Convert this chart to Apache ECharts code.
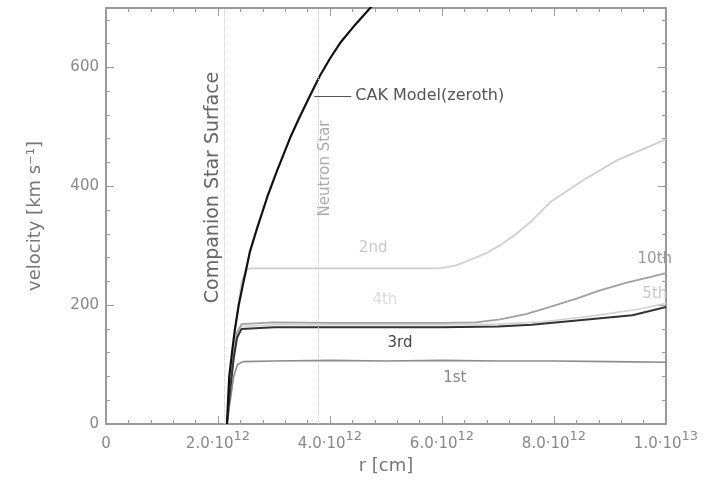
<!DOCTYPE html>
<html>
<head>
<meta charset="utf-8">
<script src="https://cdn.jsdelivr.net/npm/echarts@6/dist/echarts.min.js"></script>
<style>html,body{margin:0;padding:0;background:#fff}#c{width:712px;height:481px}</style>
</head>
<body>
<div id="c"></div>
<script>
// r in cm, v in km/s
const cakZeroth = [[2.16e12,0],[2.18e12,40],[2.20e12,79],[2.25e12,120],[2.30e12,158],[2.37e12,200],[2.45e12,237],[2.57e12,290],[2.70e12,330],[2.88e12,382],[3.05e12,425],[3.29e12,482],[3.45e12,515],[3.64e12,552],[3.82e12,586],[4.00e12,615],[4.18e12,641],[4.45e12,672],[4.71e12,699],[4.85e12,714]];
const iter1st = [[2.16e12,0],[2.22e12,40],[2.28e12,80],[2.35e12,100],[2.45e12,105],[3e12,106],[4e12,107],[5e12,106],[6e12,107],[7e12,106],[8e12,106],[9e12,105],[1e13,104]];
const iter2nd = [[2.16e12,0],[2.24e12,90],[2.32e12,170],[2.42e12,240],[2.52e12,260],[2.6e12,262],[4e12,262],[5.96e12,262],[6.25e12,267],[6.50e12,276],[6.78e12,287],[7.04e12,301],[7.3e12,318],[7.57e12,339],[7.93e12,373],[8.52e12,410],[9.13e12,444],[1e13,479]];
const iter3rd = [[2.16e12,0],[2.22e12,60],[2.28e12,110],[2.34e12,145],[2.42e12,160],[3e12,163],[4e12,163],[5e12,163],[6e12,163],[7e12,164],[7.6e12,167],[8.5e12,175],[9.4e12,183],[1e13,197]];
const iter4th = [[2.16e12,0],[2.22e12,62],[2.28e12,112],[2.34e12,150],[2.42e12,164],[3e12,167],[4e12,167],[5e12,167],[6e12,167],[7e12,168],[7.8e12,172],[8.7e12,182],[9.5e12,193],[1e13,203]];
const iter10th = [[2.16e12,0],[2.22e12,64],[2.28e12,115],[2.34e12,154],[2.42e12,168],[3e12,171],[4e12,170],[5e12,170],[6e12,170],[6.6e12,171],[7.04e12,176],[7.5e12,185],[7.93e12,197],[8.4e12,211],[8.82e12,225],[9.3e12,238],[9.71e12,247],[1e13,254]];
const xTicks = [0, 2e12, 4e12, 6e12, 8e12, 1e13];
const yTicks = [0, 200, 400, 600];
const companionSurface = 2.11e12;
const neutronStar = 3.79e12;
const curveLabels = [
  {text:'2nd', r:4.77e12, v:296, color:'#c8c8c8'},
  {text:'4th', r:4.98e12, v:208, color:'#dcdcdc'},
  {text:'3rd', r:5.25e12, v:136, color:'#444'},
  {text:'1st', r:6.23e12, v:77, color:'#888'},
  {text:'10th', r:9.80e12, v:277, color:'#999'},
  {text:'5th', r:9.80e12, v:218, color:'#c8c8c8'}
];

const chart = echarts.init(document.getElementById('c'));
const axisColor = '#9a9a9a';
const font = 'DejaVu Sans';
function xFmt(v){
  if (v === 0) return '{a|0}';
  const e = Math.floor(Math.log10(v) + 1e-9);
  const m = (v / Math.pow(10, e)).toFixed(1);
  return '{a|' + m + '·10}{b|' + e + '}';
}
function yFmt(v){ return yTicks.indexOf(v) >= 0 ? String(v) : ''; }
const baseX = {
  type:'value', min:0, max:1e13, interval:2e12,
  axisLine:{show:true, onZero:false, lineStyle:{color:axisColor, width:2}},
  axisTick:{show:true, inside:true, length:8, lineStyle:{color:axisColor}},
  minorTick:{show:true, splitNumber:5, length:4, lineStyle:{color:axisColor}},
  splitLine:{show:false}
};
const baseY = {
  type:'value', min:0, max:700, interval:200,
  axisLine:{show:true, onZero:false, lineStyle:{color:axisColor, width:2}},
  axisTick:{show:true, inside:true, length:8, lineStyle:{color:axisColor}},
  minorTick:{show:true, splitNumber:5, length:4, lineStyle:{color:axisColor}},
  splitLine:{show:false}
};
function lineSeries(name, data, color, width){
  return {name, type:'line', data, showSymbol:false, symbol:'none', smooth:false,
    lineStyle:{color, width}, xAxisIndex:0, yAxisIndex:0, silent:true, z:3};
}
const labelSeries = {
  type:'scatter', data:[], xAxisIndex:0, yAxisIndex:0, silent:true,
  markPoint:{symbol:'circle', symbolSize:0, silent:true,
    data: curveLabels.map(l => ({coord:[l.r, l.v], label:{show:true, formatter:l.text, color:l.color, fontSize:15, fontFamily:font, position:'inside'}}))}
};
const guideSeries = {
  type:'line', data:[], xAxisIndex:0, yAxisIndex:0, silent:true,
  markLine:{symbol:'none', silent:true, label:{show:false},
    lineStyle:{color:'#d4d4d4', type:'dotted', width:1},
    data:[{xAxis:companionSurface},{xAxis:neutronStar}]}
};
const cak = lineSeries('CAK', cakZeroth, '#111', 2.2);
cak.markLine = {symbol:'none', silent:true,
  lineStyle:{color:'#555', width:1, type:'solid'},
  label:{show:true, position:'end', formatter:'CAK Model(zeroth)', color:'#555', fontSize:16, fontFamily:font, distance:4},
  data:[[{coord:[3.72e12,552]},{coord:[4.38e12,552]}]]};

chart.setOption({
  animation:false,
  grid:{left:106, right:46, top:8, bottom:57},
  xAxis:[
    Object.assign({}, baseX, {position:'bottom',
      name:'r [cm]', nameLocation:'middle', nameGap:31,
      nameTextStyle:{color:'#777', fontSize:18, fontFamily:font},
      axisLabel:{show:true, formatter:xFmt, color:'#888', fontFamily:font, margin:6,
        rich:{a:{fontSize:15, color:'#888', fontFamily:font, verticalAlign:'bottom', lineHeight:22},
              b:{fontSize:13, color:'#888', fontFamily:font, verticalAlign:'top', lineHeight:22, padding:[0,0,8,0]}}}}),
    Object.assign({}, baseX, {position:'top', axisLabel:{show:false}})
  ],
  yAxis:[
    Object.assign({}, baseY, {position:'left',
      name:'velocity [km s⁻¹]', nameLocation:'middle', nameGap:62,
      nameTextStyle:{color:'#777', fontSize:18, fontFamily:font},
      axisLabel:{show:true, formatter:yFmt, color:'#888', fontSize:15, fontFamily:font, margin:7}}),
    Object.assign({}, baseY, {position:'right', axisLabel:{show:false}})
  ],
  series:[
    guideSeries,
    lineSeries('1st', iter1st, '#8c8c8c', 1.6),
    lineSeries('2nd', iter2nd, '#cfcfcf', 1.8),
    lineSeries('4th', iter4th, '#d2d2d2', 1.6),
    lineSeries('10th', iter10th, '#a0a0a0', 1.8),
    lineSeries('3rd', iter3rd, '#333', 2),
    cak,
    labelSeries
  ]
});

const pc = chart.convertToPixel({gridIndex:0}, [1.91e12, 398]);
const pn = chart.convertToPixel({gridIndex:0}, [3.91e12, 430]);
chart.setOption({graphic:[
  {type:'text', x:pc[0], y:pc[1], rotation:Math.PI/2, silent:true,
   style:{text:'Companion Star Surface', fill:'#666', fontSize:19, fontFamily:font, align:'center', verticalAlign:'middle'}},
  {type:'text', x:pn[0], y:pn[1], rotation:Math.PI/2, silent:true,
   style:{text:'Neutron Star', fill:'#aaa', fontSize:15, fontFamily:font, align:'center', verticalAlign:'middle'}}
]});
</script>
</body>
</html>
